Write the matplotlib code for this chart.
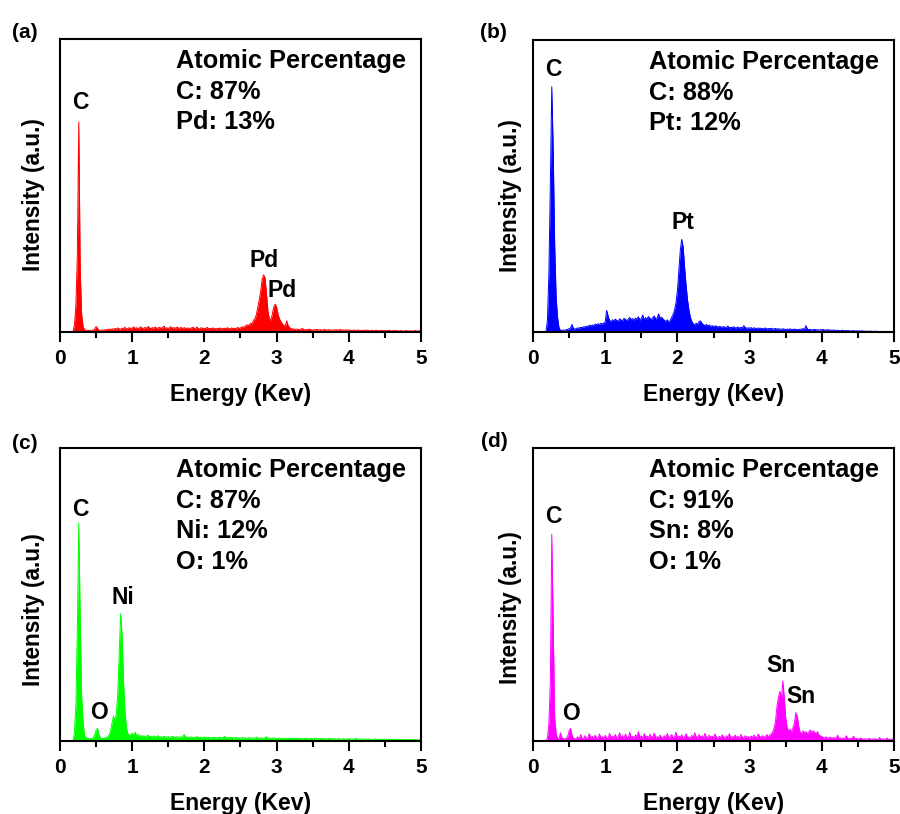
import numpy as np
import matplotlib
matplotlib.use("Agg")
import matplotlib.pyplot as plt
from matplotlib.ticker import MultipleLocator

plt.rcParams['font.family'] = ['Liberation Sans', 'DejaVu Sans']
plt.rcParams['font.weight'] = 'bold'

# Energy grid (keV), 0.02 keV channels from 0.20 to 5.00
energy_start = 0.20
energy_step = 0.02

# Intensities (arbitrary units, 0-1000 of axis height), one value per channel
pd_counts = [
    25, 90, 260, 717, 210, 60, 18, 8, 6, 5, 6, 5, 7, 6, 10, 19, 12, 6, 5, 7,
    6, 8, 7, 9, 10, 8, 11, 9, 12, 10, 14, 11, 9, 13, 12, 16, 10, 12, 15, 11,
    13, 17, 12, 15, 11, 14, 18, 12, 13, 16, 12, 19, 14, 11, 15, 13, 17, 12, 14, 16,
    12, 15, 20, 13, 14, 11, 16, 18, 12, 15, 13, 17, 14, 12, 16, 11, 15, 13, 12, 14,
    11, 14, 16, 12, 13, 17, 10, 12, 15, 11, 13, 12, 16, 10, 13, 11, 14, 12, 10, 13,
    11, 14, 10, 12, 13, 11, 15, 10, 12, 14, 11, 13, 10, 16, 12, 14, 18, 15, 20, 22,
    25, 22, 30, 28, 40, 45, 60, 85, 110, 140, 180, 195, 185, 130, 70, 45, 40, 60, 85, 95,
    85, 60, 45, 35, 28, 22, 20, 38, 22, 15, 12, 10, 11, 8, 10, 9, 8, 10, 12, 8,
    7, 9, 8, 10, 7, 6, 8, 7, 9, 6, 8, 7, 6, 9, 7, 6, 8, 7, 6, 7,
    6, 8, 7, 6, 9, 6, 7, 5, 8, 6, 7, 6, 5, 7, 6, 5, 7, 6, 5, 6,
    5, 6, 5, 7, 5, 4, 6, 5, 4, 6, 5, 4, 5, 6, 4, 5, 4, 5, 6, 4,
    4, 5, 4, 5, 4, 3, 5, 4, 3, 4, 5, 3, 4, 4, 3, 4, 5, 3, 4, 4,
    3,
]

pt_counts = [
    40, 200, 500, 840, 620, 300, 120, 50, 15, 6, 5, 7, 6, 8, 9, 11, 14, 26, 12, 10,
    12, 14, 13, 16, 15, 18, 17, 20, 19, 23, 21, 24, 22, 27, 25, 28, 26, 30, 27, 31,
    33, 74, 55, 40, 35, 42, 38, 44, 40, 36, 45, 41, 38, 47, 43, 39, 44, 50, 42, 46,
    40, 48, 44, 52, 41, 46, 58, 43, 49, 45, 53, 47, 42, 50, 55, 44, 48, 62, 46, 51,
    45, 40, 36, 42, 33, 40, 50, 60, 75, 100, 140, 210, 280, 317, 290, 220, 160, 110, 75, 50,
    36, 28, 24, 30, 26, 35, 38, 30, 25, 22, 26, 21, 24, 19, 22, 18, 21, 20, 17, 19,
    18, 16, 19, 15, 17, 20, 14, 16, 15, 18, 14, 15, 17, 13, 16, 14, 22, 15, 13, 14,
    13, 15, 12, 14, 13, 11, 14, 12, 13, 11, 12, 14, 10, 12, 11, 13, 10, 11, 12, 10,
    11, 10, 9, 11, 10, 8, 10, 9, 11, 8, 9, 10, 8, 9, 8, 10, 9, 12, 8, 22,
    10, 8, 9, 7, 8, 9, 7, 8, 6, 8, 7, 9, 6, 7, 8, 6, 7, 5, 7, 6,
    5, 6, 5, 4, 6, 5, 4, 5, 4, 5, 3, 4, 5, 3, 4, 3, 4, 3, 4, 3,
    3, 2, 3, 2, 3, 2, 2, 3, 2, 2, 1, 2, 2, 1, 2, 1, 1, 2, 1, 1,
    1,
]

ni_counts = [
    30, 120, 380, 744, 420, 150, 60, 20, 8, 12, 7, 9, 8, 11, 20, 38, 43, 22, 10, 8,
    9, 11, 12, 15, 20, 35, 60, 85, 70, 90, 160, 300, 435, 360, 200, 100, 45, 25, 18, 22,
    26, 20, 30, 18, 22, 16, 19, 15, 18, 14, 17, 20, 15, 16, 13, 17, 14, 15, 18, 13,
    15, 12, 16, 14, 13, 15, 12, 14, 16, 13, 12, 15, 13, 14, 12, 16, 22, 14, 12, 13,
    12, 14, 11, 13, 12, 15, 11, 13, 12, 10, 14, 12, 11, 13, 10, 12, 11, 13, 10, 12,
    11, 13, 10, 12, 16, 11, 10, 12, 11, 13, 10, 11, 12, 10, 11, 9, 12, 10, 11, 9,
    10, 12, 9, 11, 10, 9, 13, 10, 9, 11, 10, 9, 11, 14, 9, 10, 8, 11, 9, 10,
    9, 8, 10, 9, 8, 10, 9, 8, 9, 10, 8, 9, 8, 10, 9, 8, 9, 7, 8, 9,
    8, 9, 7, 8, 9, 7, 8, 10, 7, 8, 7, 9, 8, 7, 8, 7, 9, 7, 8, 7,
    8, 7, 6, 8, 7, 6, 8, 7, 6, 7, 8, 6, 7, 6, 7, 9, 6, 7, 6, 7,
    6, 7, 5, 6, 7, 5, 6, 5, 7, 6, 5, 6, 5, 6, 5, 7, 5, 6, 5, 6,
    5, 6, 5, 4, 6, 5, 4, 5, 6, 4, 5, 5, 4, 5, 4, 5, 4, 5, 4, 5,
    4,
]

sn_counts = [
    10, 60, 200, 706, 400, 80, 25, 10, 6, 28, 12, 8, 6, 10, 15, 35, 43, 20, 9, 7,
    8, 14, 6, 22, 9, 7, 18, 8, 12, 25, 10, 16, 9, 20, 11, 8, 24, 12, 15, 9,
    19, 11, 8, 26, 12, 17, 10, 22, 9, 14, 28, 11, 18, 8, 24, 13, 10, 30, 12, 16,
    9, 21, 14, 32, 11, 18, 8, 25, 13, 17, 10, 23, 12, 16, 27, 9, 15, 11, 20, 13,
    10, 18, 12, 26, 9, 15, 22, 11, 14, 30, 10, 17, 12, 21, 9, 16, 25, 11, 14, 10,
    19, 12, 28, 15, 10, 22, 13, 18, 9, 26, 14, 11, 20, 12, 17, 10, 24, 13, 9, 16,
    11, 21, 14, 9, 18, 12, 25, 10, 15, 13, 20, 11, 16, 9, 22, 13, 10, 18, 12, 15,
    10, 17, 12, 20, 14, 11, 24, 15, 13, 18, 12, 16, 22, 14, 20, 25, 30, 45, 70, 120,
    150, 170, 140, 205, 150, 80, 45, 35, 40, 30, 45, 60, 97, 85, 50, 30, 25, 35, 28, 32,
    25, 30, 38, 28, 35, 30, 24, 32, 20, 18, 15, 12, 10, 14, 9, 11, 13, 8, 12, 10,
    9, 20, 8, 11, 7, 10, 8, 18, 9, 7, 10, 8, 16, 7, 9, 6, 8, 10, 7, 6,
    8, 6, 7, 9, 5, 7, 6, 8, 5, 6, 12, 5, 7, 6, 5, 10, 6, 5, 7, 6,
    5,
]

panel_tags = ['(a)', '(b)', '(c)', '(d)']
panel_colors = ['#FF0000', '#0000FF', '#00FF00', '#FF00FF']
panel_spectra = [pd_counts, pt_counts, ni_counts, sn_counts]
composition_lines = [
    ['Atomic Percentage', 'C: 87%', 'Pd: 13%'],
    ['Atomic Percentage', 'C: 88%', 'Pt: 12%'],
    ['Atomic Percentage', 'C: 87%', 'Ni: 12%', 'O: 1%'],
    ['Atomic Percentage', 'C: 91%', 'Sn: 8%', 'O: 1%'],
]
# peak labels: (text, energy keV, intensity of text baseline)
peak_labels = [
    [('C', 0.277, 761), ('Pd', 2.83, 222), ('Pd', 3.07, 120)],
    [('C', 0.28, 876), ('Pt', 2.075, 354)],
    [('C', 0.277, 768), ('O', 0.54, 74), ('Ni', 0.866, 467)],
    [('C', 0.28, 744), ('O', 0.52, 72), ('Sn', 3.43, 237), ('Sn', 3.71, 131)],
]

W, H = 900, 814
fig = plt.figure(figsize=(W / 100, H / 100), dpi=100)

# axes boxes in pixels: left, top, right, bottom
boxes = [(60, 39, 421, 332), (533, 40, 894, 332),
         (60, 448, 421, 741), (533, 448, 894, 741)]
tag_pos = [(12, 23), (480, 23), (12, 434), (481, 432)]
ylabel_x = [-0.042, -0.03, -0.042, -0.03]
ylabel_y = [0.468, 0.468, 0.447, 0.457]

for k in range(4):
    l, t, r, b = boxes[k]
    ax = fig.add_axes([l / W, 1 - b / H, (r - l) / W, (b - t) / H])
    y = np.asarray(panel_spectra[k], dtype=float)
    if len(y) != 241:
        raise ValueError(f"panel {k} has {len(y)} values")
    x = np.round(energy_start + energy_step * np.arange(len(y)), 3)
    x = np.concatenate([[0.18], x])
    y = np.concatenate([[0.0], y])
    c = panel_colors[k]
    ax.fill_between(x, 0, y, color=c, lw=0)
    ax.plot(x, y, color=c, lw=0.7)
    ax.set_xlim(0, 5)
    ax.set_ylim(0, 1000)
    ax.set_yticks([])
    ax.xaxis.set_major_locator(MultipleLocator(1))
    ax.xaxis.set_minor_locator(MultipleLocator(0.5))
    ax.tick_params(axis='x', which='major', direction='out', length=7.5, width=1.5,
                   labelsize=15, pad=5)
    ax.tick_params(axis='x', which='minor', direction='out', length=4.5, width=1.5)
    for lab in ax.get_xticklabels():
        lab.set_fontweight('bold')
    for sp in ax.spines.values():
        sp.set_linewidth(1.5)
    ax.set_xlabel('Energy (Kev)', fontsize=16.5, fontweight='bold')
    ax.xaxis.set_label_coords(0.5, -0.175)
    ax.set_ylabel('Intensity (a.u.)', fontsize=16.3, fontweight='bold')
    ax.yaxis.set_label_coords(ylabel_x[k], ylabel_y[k])

    for j, line in enumerate(composition_lines[k]):
        ax.text(0.321, 0.90 - 0.104 * j, line, transform=ax.transAxes,
                fontsize=18.3, fontweight='bold', ha='left', va='baseline')
    for txt, ex, ey in peak_labels[k]:
        ax.text(ex, ey, txt, fontsize=16.5, fontweight='bold',
                ha='center', va='baseline')

    tx, ty = tag_pos[k]
    fig.text(tx / W, 1 - ty / H, panel_tags[k], fontsize=15, fontweight='bold',
             ha='left', va='top')

fig.savefig('out.png', dpi=100)
